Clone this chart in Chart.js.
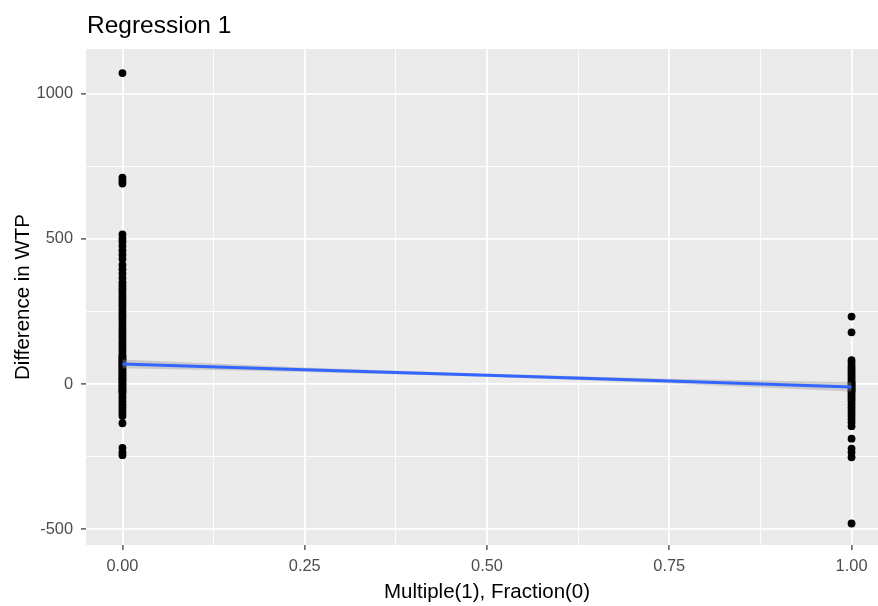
<!DOCTYPE html>
<html>
<head>
<meta charset="utf-8">
<script src="https://cdn.jsdelivr.net/npm/chart.js@4.4.1/dist/chart.umd.min.js"></script>
<style>
  html, body { margin: 0; padding: 0; background: #ffffff; overflow: hidden; }
  #wrap { width: 878px; height: 606px; overflow: hidden; position: relative; }
  canvas { display: block; }
</style>
</head>
<body>
<div id="wrap"><canvas id="c" width="892" height="606" style="width:892px;height:606px"></canvas></div>
<script>
// ---- data ----
const chartTitle = "Regression 1";
const xAxisTitle = "Multiple(1), Fraction(0)";
const yAxisTitle = "Difference in WTP";

const xMajorTicks = [0, 0.25, 0.5, 0.75, 1];
const xTickLabels = ["0.00", "0.25", "0.50", "0.75", "1.00"];
const xMinorTicks = [0.125, 0.375, 0.625, 0.875];
const yMajorTicks = [-500, 0, 500, 1000];
const yTickLabels = ["-500", "0", "500", "1000"];
const yMinorTicks = [-250, 250, 750];

// group with x = 0 (Fraction)
const fractionValues = [1070, 710, 700, 690, 515, 500, 490, 475, 460, 445, 430, 410, 395, 380,
  365, 350, 340, 330, 320, 310, 300, 290, 280, 270, 260, 250, 240, 230, 220, 210, 200, 190,
  180, 170, 160, 150, 140, 130, 120, 110, 100, 95, 90, 85, 80, 75, 70, 65, 60, 55, 50, 45,
  40, 35, 30, 25, 20, 15, 10, 5, 0, -5, -10, -15, -20, -25, -30, -40, -50, -60, -70, -80,
  -90, -100, -110, -135, -220, -235, -245];
// group with x = 1 (Multiple)
const multipleValues = [232, 178, 82, 72, 62, 55, 48, 40, 32, 25, 18, 10, 5, 0, -5, -10, -15,
  -20, -25, -30, -38, -45, -52, -60, -70, -80, -90, -100, -110, -120, -132, -145, -188, -222,
  -235, -252, -480];

// fitted regression line and its confidence band
const fitX = [0, 0.25, 0.5, 0.75, 1];
const fitY = [69, 49, 30, 10, -10];
const fitUpper = [84, 57, 35, 18, 6];
const fitLower = [54, 41, 25, 2, -26];

// ---- build datasets ----
const toPts = (xs, ys) => xs.map((x, i) => ({ x: x, y: ys[i] }));
const pointsData = fractionValues.map(v => ({ x: 0, y: v }))
  .concat(multipleValues.map(v => ({ x: 1, y: v })));

const majorSetX = new Set(xMajorTicks);
const majorSetY = new Set(yMajorTicks);

const FONT = "'Liberation Sans', Arial, sans-serif";

const panelBg = {
  id: 'panelBg',
  beforeDraw(chart) {
    const { ctx, chartArea: a } = chart;
    ctx.save();
    ctx.fillStyle = '#EBEBEB';
    ctx.fillRect(a.left, a.top, a.right - a.left, a.bottom - a.top);
    ctx.restore();
  },
  afterDraw(chart) {
    const { ctx, chartArea: a } = chart;
    ctx.save();
    ctx.fillStyle = '#000000';
    ctx.font = "24.5px " + FONT;
    ctx.textBaseline = 'alphabetic';
    ctx.textAlign = 'left';
    ctx.fillText(chartTitle, a.left + 1, 33);
    ctx.restore();
  }
};

const gridOpts = (majorSet) => ({
  color: '#FFFFFF',
  lineWidth: (c) => (c.tick && majorSet.has(c.tick.value)) ? 1.8 : 0.9,
  tickColor: (c) => (c.tick && majorSet.has(c.tick.value)) ? '#333333' : 'rgba(0,0,0,0)',
  tickLength: 5,
  tickWidth: 1.2,
  drawTicks: true,
  z: 0
});

new Chart(document.getElementById('c'), {
  type: 'scatter',
  data: {
    datasets: [
      {
        type: 'line',
        label: 'fit',
        data: toPts(fitX, fitY),
        borderColor: '#3366FF',
        borderWidth: 3,
        pointRadius: 0,
        fill: false,
        tension: 0,
        order: 0
      },
      {
        type: 'line',
        label: 'upper',
        data: toPts(fitX, fitUpper),
        borderWidth: 0,
        borderColor: 'rgba(0,0,0,0)',
        pointRadius: 0,
        backgroundColor: 'rgba(153,153,153,0.4)',
        fill: '+1',
        tension: 0,
        order: 1
      },
      {
        type: 'line',
        label: 'lower',
        data: toPts(fitX, fitLower),
        borderWidth: 0,
        borderColor: 'rgba(0,0,0,0)',
        pointRadius: 0,
        fill: false,
        tension: 0,
        order: 1
      },
      {
        label: 'points',
        data: pointsData,
        backgroundColor: '#000000',
        borderWidth: 0,
        pointRadius: 3.9,
        order: 2
      }
    ]
  },
  options: {
    responsive: false,
    animation: false,
    devicePixelRatio: 1,
    layout: { padding: { top: 49, right: 0, left: 0, bottom: 0 } },
    plugins: {
      legend: { display: false },
      tooltip: { enabled: false },
      title: { display: false }
    },
    scales: {
      x: {
        type: 'linear',
        min: -0.05,
        max: 1.05,
        border: { display: false },
        grid: gridOpts(majorSetX),
        afterBuildTicks(s) {
          s.ticks = xMajorTicks.concat(xMinorTicks).sort((a, b) => a - b).map(v => ({ value: v }));
        },
        afterFit(s) { s.height = 61; s.paddingLeft = 0; s.paddingRight = 0; },
        ticks: {
          autoSkip: false,
          maxRotation: 0,
          padding: 7,
          color: '#4D4D4D',
          font: { family: FONT, size: 16.4 },
          callback: (v) => { const i = xMajorTicks.indexOf(v); return i >= 0 ? xTickLabels[i] : ''; }
        },
        title: {
          display: true,
          text: xAxisTitle,
          color: '#000000',
          font: { family: FONT, size: 20.5 },
          padding: { top: 0, bottom: 1 }
        }
      },
      y: {
        type: 'linear',
        min: -554,
        max: 1153,
        border: { display: false },
        grid: gridOpts(majorSetY),
        afterBuildTicks(s) {
          s.ticks = yMajorTicks.concat(yMinorTicks).sort((a, b) => a - b).map(v => ({ value: v }));
        },
        afterFit(s) { s.width = 86; s.paddingTop = 0; s.paddingBottom = 0; },
        ticks: {
          autoSkip: false,
          padding: 8,
          color: '#4D4D4D',
          font: { family: FONT, size: 16.4 },
          callback: (v) => { const i = yMajorTicks.indexOf(v); return i >= 0 ? yTickLabels[i] : ''; }
        },
        title: {
          display: true,
          text: yAxisTitle,
          color: '#000000',
          font: { family: FONT, size: 20.5 },
          padding: { top: 11, bottom: 0 }
        }
      }
    }
  },
  plugins: [panelBg]
});
</script>
</body>
</html>
